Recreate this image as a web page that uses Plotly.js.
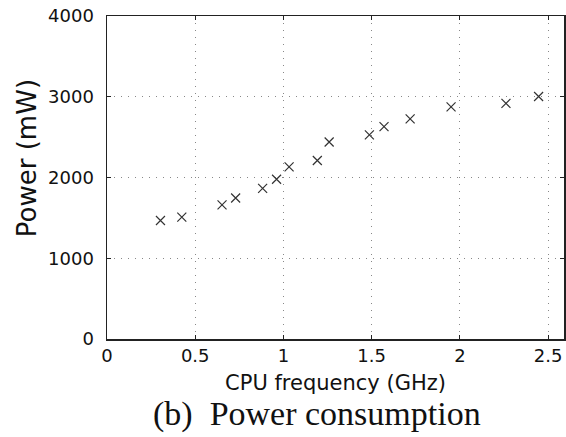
<!DOCTYPE html>
<html>
<head>
<meta charset="utf-8">
<script src="https://cdn.plot.ly/plotly-3.0.1.min.js"></script>
<style>html,body{margin:0;padding:0;background:#fff;}#chart{width:566px;height:437px;}</style>
</head>
<body>
<div id="chart"></div>
<script>
// CPU frequency (GHz)
const frequencyGHz = [0.303, 0.424, 0.652, 0.729, 0.882, 0.961, 1.032, 1.192, 1.259, 1.487, 1.570, 1.718, 1.950, 2.261, 2.446];
// Power consumption (mW)
const powerMW = [1468, 1510, 1661, 1746, 1866, 1978, 2132, 2211, 2440, 2527, 2630, 2726, 2875, 2918, 3003];
const xTicks = [0, 0.5, 1, 1.5, 2, 2.5];
const xTickText = ['0', '0.5', '1', '1.5', '2', '2.5'];
const yTicks = [0, 1000, 2000, 3000, 4000];
const yTickText = ['0', '1000', '2000', '3000', '4000'];

const sans = 'DejaVu Sans, Arial, sans-serif';
const axisCommon = {
  showline: true, linecolor: '#222', linewidth: 1.5, mirror: 'ticks',
  ticks: 'inside', ticklen: 4, tickwidth: 1, tickcolor: '#222',
  showgrid: true, gridcolor: '#888', gridwidth: 1, griddash: '1px,6px',
  zeroline: false, tickfont: {family: sans, size: 18, color: '#111'}
};

const trace = {
  type: 'scatter', mode: 'markers', x: frequencyGHz, y: powerMW,
  marker: {symbol: 'x-thin-open', size: 9, color: '#333', line: {color: '#333', width: 1.2}},
  hoverinfo: 'x+y'
};

const layout = {
  width: 566, height: 437,
  margin: {l: 107, r: 2, t: 16, b: 98},
  paper_bgcolor: '#fff', plot_bgcolor: '#fff', showlegend: false,
  xaxis: Object.assign({}, axisCommon, {
    range: [0, 2.59], tickvals: xTicks, ticktext: xTickText, ticklabelstandoff: 0,
    title: {text: 'CPU frequency (GHz)', font: {family: sans, size: 21, color: '#111'}, standoff: 10}
  }),
  yaxis: Object.assign({}, axisCommon, {
    range: [0, 4000], tickvals: yTicks, ticktext: yTickText, ticklabelstandoff: 8
  }),
  annotations: [{
    text: 'Power (mW)', xref: 'paper', yref: 'paper', textangle: -90,
    x: -0.175, y: 0.56, xanchor: 'center', yanchor: 'middle', showarrow: false,
    font: {family: sans, size: 26, color: '#111'}
  }, {
    text: '(b)  Power consumption', xref: 'paper', yref: 'paper',
    x: 0.46, y: -0.168, xanchor: 'center', yanchor: 'top', showarrow: false,
    font: {family: 'Liberation Serif, Times New Roman, serif', size: 34, color: '#111'}
  }]
};

Plotly.newPlot('chart', [trace], layout, {displayModeBar: false, staticPlot: true});
</script>
</body>
</html>
